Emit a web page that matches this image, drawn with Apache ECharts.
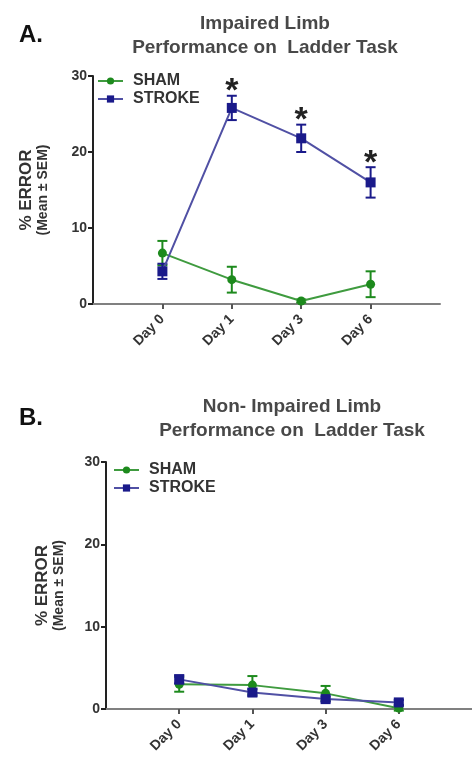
<!DOCTYPE html>
<html>
<head>
<meta charset="utf-8">
<script src="https://cdn.jsdelivr.net/npm/echarts@6/dist/echarts.min.js"></script>
<style>
  html, body { margin: 0; padding: 0; background: #fff; }
  #chart { width: 472px; height: 764px; }
</style>
</head>
<body>
<div id="chart"></div>
<script type="text/javascript">
// categories (padded with empty slots at both ends, like the original plot)
var days = ['Day 0', 'Day 1', 'Day 3', 'Day 6'];
var cats = [''].concat(days).concat([' ']);
var yTicks = [0, 10, 20, 30];

// panel A - impaired limb
var shamA = [6.7, 3.2, 0.4, 2.6];
var shamA_sem = [1.6, 1.7, 0.2, 1.7];
var strokeA = [4.3, 25.8, 21.8, 16.0];
var strokeA_sem = [1.0, 1.6, 1.8, 2.0];
var sigA = [0, 1, 1, 1];

// panel B - non-impaired limb
var shamB = [3.0, 2.9, 1.9, 0.1];
var shamB_sem = [0.9, 1.1, 0.9, 0.3];
var strokeB = [3.6, 2.0, 1.2, 0.8];
var strokeB_sem = [0.5, 0.4, 0.3, 0.3];

var GREEN = '#3f9b3f', GREEN_DK = '#1d8a1d';
var BLUE = '#5050a4', BLUE_DK = '#1a1a8a';
var FONT = 'Liberation Sans, Arial, sans-serif';

function pts(vals) {
  return vals.map(function (v, i) { return [i + 1, v]; });
}
function errPts(vals, sem) {
  return vals.map(function (v, i) { return [i + 1, v, sem[i]]; });
}

function errRender(color) {
  return function (params, api) {
    var x = api.value(0), m = api.value(1), s = api.value(2);
    var hi = api.coord([x, m + s]);
    var lo = api.coord([x, m - s]);
    var w = 5;
    var st = { stroke: color, lineWidth: 2 };
    return {
      type: 'group',
      children: [
        { type: 'line', shape: { x1: hi[0], y1: hi[1], x2: lo[0], y2: lo[1] }, style: st },
        { type: 'line', shape: { x1: hi[0] - w, y1: hi[1], x2: hi[0] + w, y2: hi[1] }, style: st },
        { type: 'line', shape: { x1: lo[0] - w, y1: lo[1], x2: lo[0] + w, y2: lo[1] }, style: st }
      ]
    };
  };
}

// asterisk above the stroke error bar where significant
function starRender(params, api) {
  var x = api.value(0), m = api.value(1), s = api.value(2), f = api.value(3);
  if (!f) return null;
  var p = api.coord([x, m + s]);
  return {
    type: 'text',
    style: {
      x: p[0], y: p[1] + 13, text: '*',
      fill: '#222', font: 'bold 34px ' + FONT,
      textAlign: 'center', textVerticalAlign: 'bottom'
    }
  };
}

function xAxis(idx) {
  return {
    type: 'category', gridIndex: idx, data: cats, boundaryGap: false,
    axisLine: { lineStyle: { color: '#808080', width: 2 } },
    axisTick: {
      interval: function (i) { return i > 0 && i < cats.length - 1; },
      length: 5, lineStyle: { color: '#555', width: 2 }
    },
    axisLabel: {
      interval: function (i) { return i > 0 && i < cats.length - 1; },
      rotate: 45, margin: 13, color: '#333', fontSize: 14, fontWeight: 'bold', fontFamily: FONT
    },
    splitLine: { show: false }
  };
}

function yAxis(idx, gap) {
  return {
    type: 'value', gridIndex: idx, min: yTicks[0], max: yTicks[yTicks.length - 1], interval: 10,
    axisLine: { show: true, lineStyle: { color: '#222', width: 2 } },
    axisTick: { show: true, length: 5, lineStyle: { color: '#222', width: 2 } },
    axisLabel: { color: '#333', fontSize: 14, fontWeight: 'bold', fontFamily: FONT, margin: 6 },
    splitLine: { show: false },
    name: '{a|% ERROR}\n{b|(Mean ± SEM)}',
    nameLocation: 'middle', nameRotate: 90, nameGap: gap,
    nameTextStyle: {
      fontFamily: FONT, color: '#333', lineHeight: 17,
      rich: {
        a: { fontSize: 17, fontWeight: 'bold', color: '#333', fontFamily: FONT, lineHeight: 17 },
        b: { fontSize: 14, fontWeight: 'bold', color: '#333', fontFamily: FONT, lineHeight: 17 }
      }
    }
  };
}

function panelSeries(idx, sham, shamSem, stroke, strokeSem, sig) {
  var out = [
    {
      name: 'SHAM', type: 'line', xAxisIndex: idx, yAxisIndex: idx, data: pts(sham),
      symbol: 'circle', symbolSize: 9,
      lineStyle: { color: GREEN, width: 2 }, itemStyle: { color: GREEN_DK }, z: 3
    },
    {
      name: 'STROKE', type: 'line', xAxisIndex: idx, yAxisIndex: idx, data: pts(stroke),
      symbol: 'rect', symbolSize: 10,
      lineStyle: { color: BLUE, width: 2 }, itemStyle: { color: BLUE_DK }, z: 4
    },
    {
      name: 'sham-err' + idx, type: 'custom', xAxisIndex: idx, yAxisIndex: idx,
      data: errPts(sham, shamSem), renderItem: errRender(GREEN_DK), encode: { x: 0, y: 1 }, z: 3
    },
    {
      name: 'stroke-err' + idx, type: 'custom', xAxisIndex: idx, yAxisIndex: idx,
      data: errPts(stroke, strokeSem), renderItem: errRender(BLUE_DK), encode: { x: 0, y: 1 }, z: 4
    }
  ];
  if (sig) {
    out.push({
      name: 'sig' + idx, type: 'custom', xAxisIndex: idx, yAxisIndex: idx,
      data: stroke.map(function (v, i) { return [i + 1, v, strokeSem[i], sig[i]]; }),
      renderItem: starRender, encode: { x: 0, y: 1 }, z: 5
    });
  }
  return out;
}

function legend(left, top) {
  return {
    data: ['SHAM', 'STROKE'], orient: 'vertical', left: left, top: top,
    itemWidth: 25, itemHeight: 9, itemGap: 2,
    textStyle: { fontSize: 16, fontWeight: 'bold', color: '#333', fontFamily: FONT, padding: [0, 0, 0, 5] },
    selectedMode: false
  };
}

var chart = echarts.init(document.getElementById('chart'), null, { renderer: 'canvas' });
var titleStyle = { fontSize: 19, color: '#484848', fontWeight: 'bold', fontFamily: FONT, lineHeight: 24 };
var option = {
  animation: false,
  backgroundColor: '#fff',
  title: [
    { text: 'A.', left: 14, top: 18, textStyle: { fontSize: 24, fontWeight: 'bold', color: '#111', fontFamily: FONT } },
    { text: 'Impaired Limb\nPerformance on  Ladder Task', left: 260, top: 7, textAlign: 'center', textStyle: titleStyle },
    { text: 'B.', left: 14, top: 401, textStyle: { fontSize: 24, fontWeight: 'bold', color: '#111', fontFamily: FONT } },
    { text: 'Non- Impaired Limb\nPerformance on  Ladder Task', left: 287, top: 390, textAlign: 'center', textStyle: titleStyle }
  ],
  legend: [legend(92, 68), legend(108, 457)],
  grid: [
    { left: 93, top: 76, width: 347, height: 228 },
    { left: 106, top: 462, width: 370, height: 247 }
  ],
  xAxis: [xAxis(0), xAxis(1)],
  yAxis: [yAxis(0, 41), yAxis(1, 38)],
  series: panelSeries(0, shamA, shamA_sem, strokeA, strokeA_sem, sigA)
    .concat(panelSeries(1, shamB, shamB_sem, strokeB, strokeB_sem, null))
};
chart.setOption(option);
</script>
</body>
</html>
